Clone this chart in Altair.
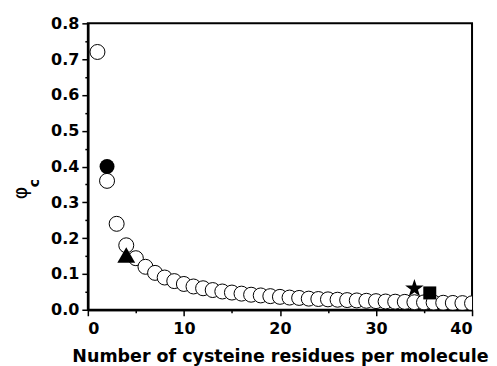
import altair as alt
import pandas as pd

# open circles: n = 1..40
n_vals = list(range(1, 41))
phi_vals = [0.72, 0.36, 0.24, 0.18, 0.144, 0.12, 0.103, 0.09, 0.08, 0.072,
            0.065, 0.06, 0.055, 0.051, 0.048, 0.045, 0.042, 0.040, 0.038, 0.036,
            0.034, 0.033, 0.031, 0.030, 0.029, 0.028, 0.027, 0.026, 0.025, 0.024,
            0.023, 0.0225, 0.022, 0.021, 0.0206, 0.020, 0.0195, 0.019, 0.0185, 0.018]

# filled markers
fc_x, fc_y = [2.0], [0.40]
tri_x, tri_y = [4.0], [0.153]
star_x, star_y = [34.0], [0.059]
sq_x, sq_y = [35.6], [0.047]

x_major = [0, 10, 20, 30, 40]
x_minor = [5, 15, 25, 35]
y_major = [0, 0.1, 0.2, 0.3, 0.4, 0.5, 0.6, 0.7, 0.8]
y_minor = [0.05, 0.15, 0.25, 0.35, 0.45, 0.55, 0.65, 0.75]

STAR = ("M0,-1 L0.225,-0.309 L0.951,-0.309 L0.363,0.118 L0.588,0.809 "
        "L0,0.382 L-0.588,0.809 L-0.363,0.118 L-0.951,-0.309 L-0.225,-0.309 Z")

xscale = alt.Scale(domain=[0, 40], nice=False)
yscale = alt.Scale(domain=[0, 0.8], nice=False)

common = dict(grid=False, domainColor="black", domainWidth=2,
              tickColor="black", tickWidth=1.5)

xaxis_major = alt.Axis(
    values=x_major, title="Number of cysteine residues per molecule",
    format="d", orient="bottom", tickSize=6, labelOverlap=False,
    labelFont="DejaVu Sans", labelFontWeight="bold", labelFontSize=16,
    labelColor="black", labelPadding=5,
    titleFont="DejaVu Sans", titleFontWeight="bold", titleFontSize=17.5,
    titleColor="black", titlePadding=11, **common,
)
yaxis_major = alt.Axis(
    values=y_major, title=None, format=".1f", orient="left", tickSize=6,
    labelOverlap=False,
    labelFont="DejaVu Sans", labelFontWeight="bold", labelFontSize=16,
    labelColor="black", labelPadding=3, **common,
)
xaxis_minor = alt.Axis(values=x_minor, title=None, labels=False, orient="bottom",
                       tickSize=3, **common)
yaxis_minor = alt.Axis(values=y_minor, title=None, labels=False, orient="left",
                       tickSize=3, **common)

open_df = pd.DataFrame({"n": n_vals, "phi": phi_vals})

def pts(xs, ys):
    return pd.DataFrame({"n": xs, "phi": ys})

def enc(ax=None, ay=None):
    return dict(
        x=alt.X("n:Q", scale=xscale, axis=ax),
        y=alt.Y("phi:Q", scale=yscale, axis=ay),
    )

filled_circle = alt.Chart(pts(fc_x, fc_y)).mark_point(
    shape="circle", filled=True, color="black", size=225, opacity=1
).encode(**enc(xaxis_major, yaxis_major))

open_circles = alt.Chart(open_df).mark_point(
    shape="circle", filled=True, fill="white", stroke="black", strokeWidth=1,
    size=225, opacity=1, clip=True
).encode(**enc(xaxis_minor, yaxis_minor))

triangle = alt.Chart(pts(tri_x, tri_y)).mark_point(
    shape="triangle-up", filled=True, color="black", size=320, opacity=1
).encode(**enc())

star = alt.Chart(pts(star_x, star_y)).mark_point(
    shape=STAR, filled=True, color="black", size=380, opacity=1
).encode(**enc())

square = alt.Chart(pts(sq_x, sq_y)).mark_point(
    shape="square", filled=True, color="black", size=169, opacity=1
).encode(**enc())

phi_label = alt.Chart(pd.DataFrame({"t": ["φ"]})).mark_text(
    text="φ", font="DejaVu Sans", fontSize=19, color="black", angle=270,
    align="center", baseline="middle"
).encode(x=alt.value(-67), y=alt.value(170))

c_label = alt.Chart(pd.DataFrame({"t": ["c"]})).mark_text(
    text="c", font="DejaVu Sans", fontWeight="bold", fontSize=14, color="black",
    angle=270, align="center", baseline="middle"
).encode(x=alt.value(-53), y=alt.value(160))

chart = alt.layer(
    filled_circle, open_circles, triangle, star, square, phi_label, c_label
).resolve_axis(x="independent", y="independent").properties(
    width=385, height=287,
    autosize="none",
    padding={"left": 80, "top": 15, "right": 17, "bottom": 56},
).configure_view(stroke="black", strokeWidth=2)

chart.save("out.html", embed_options={"renderer": "svg", "actions": False})
